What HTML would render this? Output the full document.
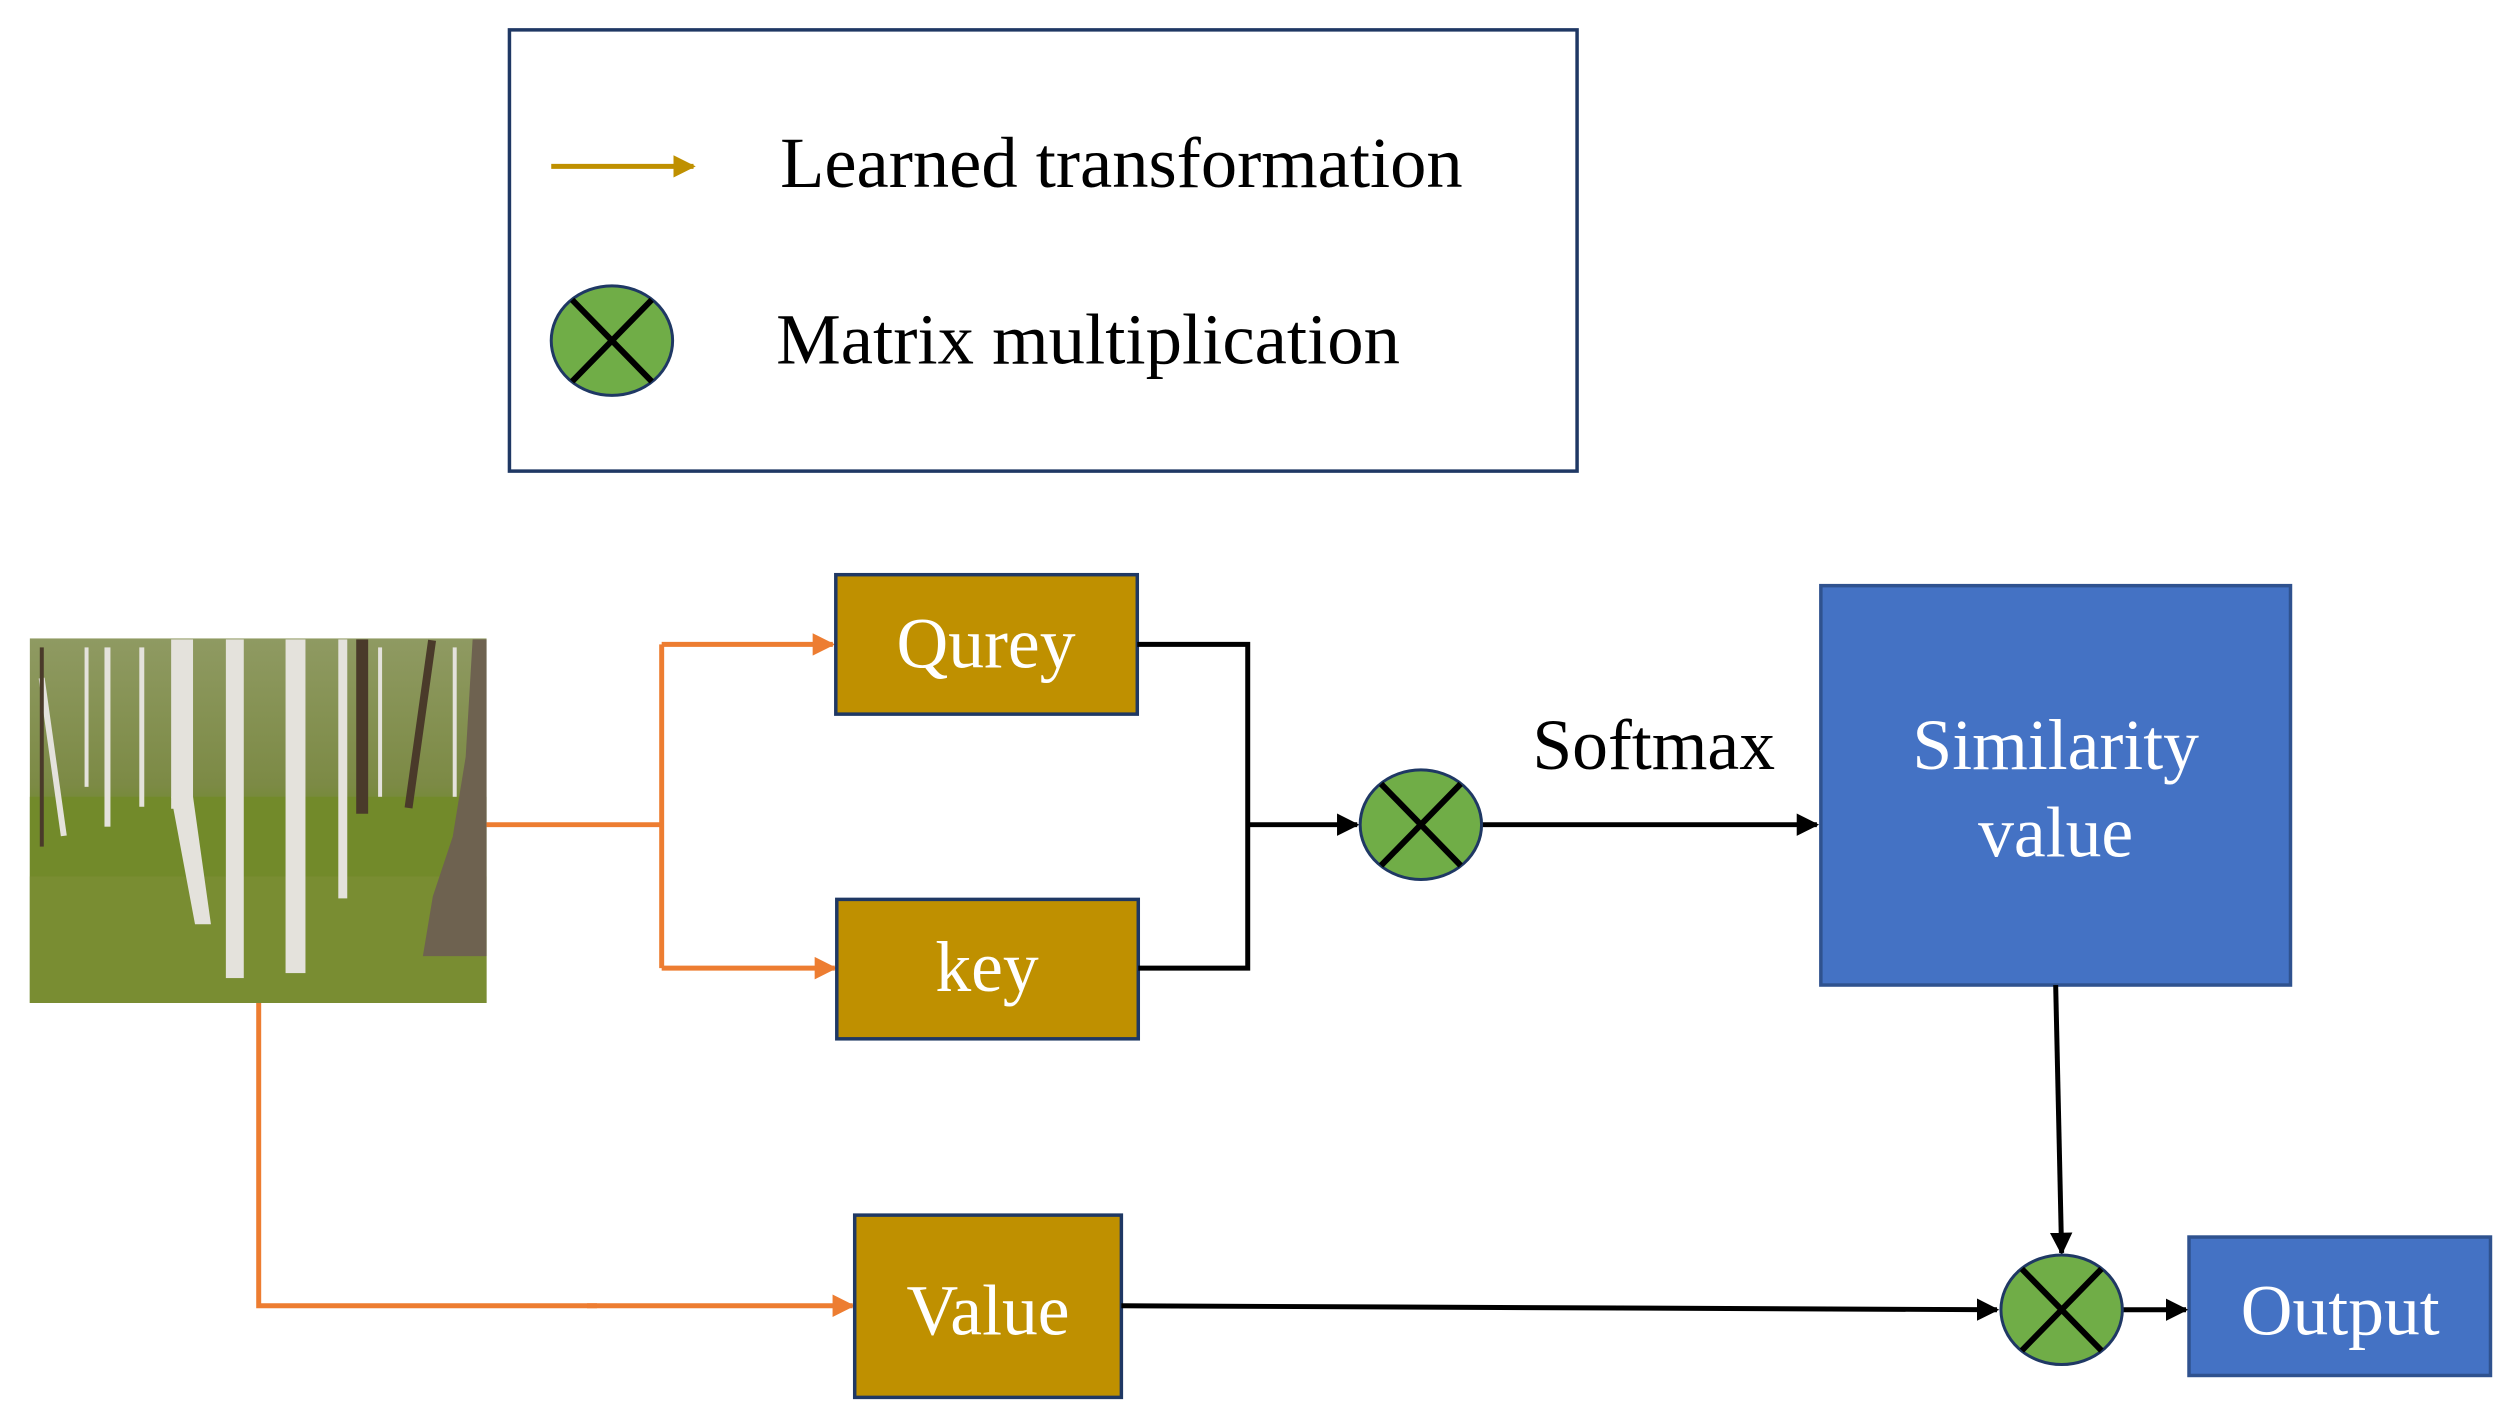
<!DOCTYPE html>
<html><head><meta charset="utf-8"><style>
html,body{margin:0;padding:0;background:#fff;}
svg{display:block;}
text{font-family:"Liberation Serif",serif;}
</style></head><body>
<svg width="2518" height="1428" viewBox="0 0 2518 1428" xmlns="http://www.w3.org/2000/svg">
<defs>
<marker id="ab" viewBox="0 0 10 10" refX="9" refY="5" markerWidth="4.5" markerHeight="4.5" orient="auto" markerUnits="strokeWidth"><path d="M0,0 L10,5 L0,10 z" fill="#000"/></marker>
<marker id="ao" viewBox="0 0 10 10" refX="9" refY="5" markerWidth="4.5" markerHeight="4.5" orient="auto" markerUnits="strokeWidth"><path d="M0,0 L10,5 L0,10 z" fill="#ED7D31"/></marker>
<marker id="ag" viewBox="0 0 10 10" refX="9" refY="5" markerWidth="4.5" markerHeight="4.5" orient="auto" markerUnits="strokeWidth"><path d="M0,0 L10,5 L0,10 z" fill="#BF9000"/></marker>
<linearGradient id="sky" x1="0" y1="0" x2="0" y2="1">
<stop offset="0" stop-color="#8f9a62"/><stop offset="0.4" stop-color="#7c8a45"/><stop offset="0.5" stop-color="#6f8a2c"/><stop offset="1" stop-color="#6d7d2a"/>
</linearGradient>
</defs>
<g transform="scale(0.995 0.996)">
<!-- legend -->
<rect x="512" y="30" width="1073" height="443" fill="#fff" stroke="#1f3864" stroke-width="3.5"/>
<line x1="554" y1="167" x2="697" y2="167" stroke="#BF9000" stroke-width="5" marker-end="url(#ag)"/>
<text x="784" y="188" font-size="72" textLength="686" lengthAdjust="spacingAndGlyphs">Learned transformation</text>
<ellipse cx="615" cy="342" rx="61" ry="55" fill="#70AD47" stroke="#1f3864" stroke-width="3"/>
<line x1="575" y1="301" x2="655" y2="383" stroke="#000" stroke-width="6"/>
<line x1="655" y1="301" x2="575" y2="383" stroke="#000" stroke-width="6"/>
<text x="780" y="365" font-size="72" textLength="627" lengthAdjust="spacingAndGlyphs">Matrix multiplication</text>

<!-- photo -->
<g>
<rect x="30" y="641" width="459" height="366" fill="url(#sky)"/>
<rect x="30" y="800" width="459" height="207" fill="#728a2a"/>
<rect x="30" y="880" width="459" height="127" fill="#7b8d34" opacity="0.8"/>
<g fill="#e4e2dc">
<rect x="172" y="642" width="22" height="170"/><polygon points="172,800 194,800 212,928 196,928"/>
<rect x="227" y="642" width="18" height="340"/>
<rect x="287" y="642" width="20" height="335"/>
<rect x="340" y="642" width="9" height="260"/>
<rect x="50" y="680" width="6" height="160" transform="rotate(-8 53 760)"/>
<rect x="105" y="650" width="6" height="180"/>
<rect x="140" y="650" width="5" height="160"/>
<rect x="85" y="650" width="4" height="140"/>
<rect x="380" y="650" width="4" height="150"/>
<rect x="455" y="650" width="4" height="150"/>
</g>
<g fill="#4a3a2a">
<rect x="358" y="642" width="12" height="175"/>
<rect x="418" y="642" width="8" height="170" transform="rotate(8 422 730)"/>
<rect x="40" y="650" width="4" height="200"/>
</g>
<polygon points="475,642 489,642 489,960 425,960 435,900 455,840 468,760" fill="#6e6250"/>
</g>

<!-- orange connectors -->
<g stroke="#ED7D31" stroke-width="5" fill="none">
<polyline points="489,828 665,828"/>
<polyline points="665,647 665,972"/>
<line x1="665" y1="647" x2="837" y2="647" marker-end="url(#ao)"/>
<line x1="665" y1="972" x2="839" y2="972" marker-end="url(#ao)"/>
<polyline points="260,1007 260,1311 600,1311"/>
<line x1="590" y1="1311" x2="857" y2="1311" marker-end="url(#ao)"/>
</g>

<!-- boxes -->
<g stroke="#1f3864" stroke-width="3.5">
<rect x="840" y="577" width="303" height="140" fill="#BF9000"/>
<rect x="841" y="903" width="303" height="140" fill="#BF9000"/>
<rect x="859" y="1220" width="268" height="183" fill="#BF9000"/>
<rect x="1830" y="588" width="472" height="401" fill="#4472C4" stroke="#2f528f"/>
<rect x="2200" y="1242" width="303" height="139" fill="#4472C4" stroke="#2f528f"/>
</g>
<g fill="#fff" font-size="72" text-anchor="middle">
<text x="991" y="670">Qurey</text>
<text x="992" y="995">key</text>
<text x="993" y="1340">Value</text>
<text x="2066" y="772">Similarity</text>
<text x="2066" y="860">value</text>
<text x="2352" y="1340">Output</text>
</g>
<text x="1662" y="772" font-size="72" text-anchor="middle">Softmax</text>

<!-- black connectors -->
<g stroke="#000" stroke-width="5" fill="none">
<polyline points="1143,647 1254,647 1254,972 1144,972"/>
<line x1="1254" y1="828" x2="1364" y2="828" marker-end="url(#ab)"/>
<line x1="1490" y1="828" x2="1826" y2="828" marker-end="url(#ab)"/>
<line x1="2066" y1="989" x2="2072" y2="1258" marker-end="url(#ab)"/>
<line x1="1127" y1="1311" x2="2007" y2="1315" marker-end="url(#ab)"/>
<line x1="2134" y1="1315" x2="2197" y2="1315" marker-end="url(#ab)"/>
</g>

<!-- multiply circles -->
<g>
<ellipse cx="1428" cy="828" rx="61" ry="55" fill="#70AD47" stroke="#1f3864" stroke-width="3"/>
<line x1="1388" y1="787" x2="1468" y2="869" stroke="#000" stroke-width="6"/>
<line x1="1468" y1="787" x2="1388" y2="869" stroke="#000" stroke-width="6"/>
<ellipse cx="2072" cy="1315" rx="61" ry="55" fill="#70AD47" stroke="#1f3864" stroke-width="3"/>
<line x1="2032" y1="1274" x2="2112" y2="1356" stroke="#000" stroke-width="6"/>
<line x1="2112" y1="1274" x2="2032" y2="1356" stroke="#000" stroke-width="6"/>
</g>
</g>
</svg>
</body></html>
